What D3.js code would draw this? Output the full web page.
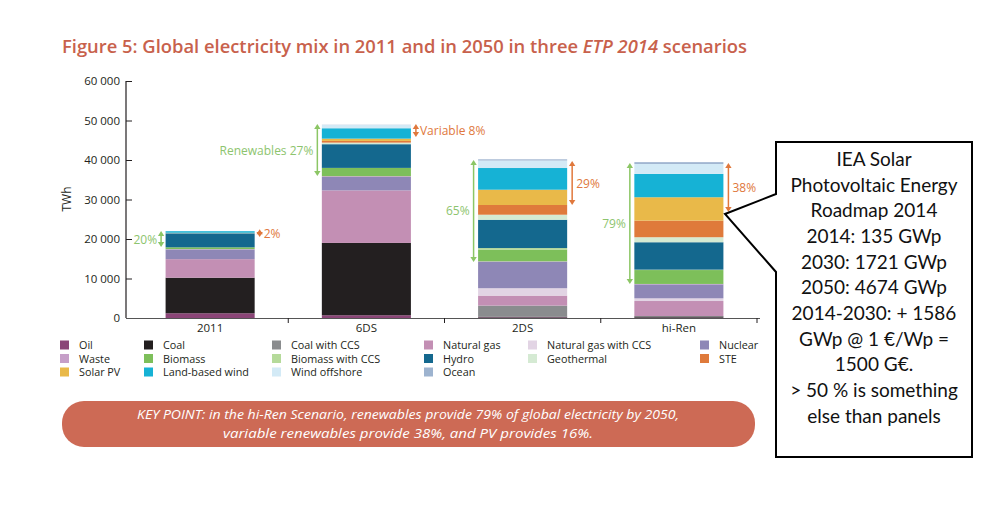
<!DOCTYPE html>
<html><head><meta charset="utf-8">
<script src="https://cdn.jsdelivr.net/npm/d3@7"></script>
<style>body{margin:0;background:#fff;} svg{display:block;}</style>
</head><body><svg id="c" width="984" height="507"></svg>
<script>
// ---------- DATA ----------
const categories = ["2011", "6DS", "2DS", "hi-Ren"];
const seriesNames = ["Oil","Coal","Coal with CCS","Natural gas","Natural gas with CCS","Nuclear",
  "Waste","Biomass","Biomass with CCS","Hydro","Geothermal","STE",
  "Solar PV","Land-based wind","Wind offshore","Ocean"];
const oil            = [1200,   700,  150,  100];
const coal           = [9000, 18300,  200,  300];
const coalCCS        = [   0,     0, 2790,  100];
const naturalGas     = [4700, 13300, 2530, 3800];
const naturalGasCCS  = [   0,     0, 1870,  680];
const nuclear        = [2450,  3400, 6700, 3540];
const waste          = [ 100,   200,  100,  100];
const biomass        = [ 450,  2100, 3000, 3520];
const biomassCCS     = [   0,     0,  370,  100];
const hydro          = [3550,  6000, 7170, 6940];
const geothermal     = [  70,   400, 1270, 1270];
const ste            = [   5,   430, 2460, 4200];
const solarPV        = [  60,   580, 3870, 5920];
const landWind       = [ 400,  2630, 5490, 5900];
const windOffshore   = [  20,   840, 1900, 2530];
const ocean          = [   1,    50,  300,  450];
const seriesValues = [oil, coal, coalCCS, naturalGas, naturalGasCCS, nuclear, waste, biomass,
  biomassCCS, hydro, geothermal, ste, solarPV, landWind, windOffshore, ocean];
const seriesColors = ["#8b4577","#231f20","#8a8c8e","#c38fb4","#e2d4e4","#8e87b6",
  "#c69fc8","#7dbf5a","#b5da9a","#14688e","#d5ead3","#df7a3b",
  "#e9b949","#16b2d5","#d3eaf6","#9db3cf"];
const yTicks = [0, 10000, 20000, 30000, 40000, 50000, 60000];
const renewablesLabels = ["20%", "Renewables 27%", "65%", "79%"];
const renewablesSpan = [[18000, 22000], [35950, 49100], [14180, 40000], [8600, 39240]];
const variableLabels = ["2%", "Variable 8%", "29%", "38%"];
const variableSpan = [[20500, 22500], [45800, 49100], [28600, 39750], [26840, 39240]];
const titleParts = ["Figure 5: Global electricity mix in 2011 and in 2050 in three ", "ETP 2014", " scenarios"];
const keyPointLines = ["KEY POINT: in the hi-Ren Scenario, renewables provide 79% of global electricity by 2050,",
  "variable renewables provide 38%, and PV provides 16%."];
const noteLines = ["IEA Solar", "Photovoltaic Energy", "Roadmap 2014", "2014: 135 GWp", "2030: 1721 GWp",
  "2050: 4674 GWp", "2014-2030: + 1586", "GWp @ 1 €/Wp =", "1500 G€.", "> 50 % is something", "else than panels"];

// ---------- CHART ----------
const svg = d3.select("#c");
const font = "'Open Sans', sans-serif";
const green = "#8cc665", orange = "#e0783c";

const x = d3.scaleBand().domain(categories).range([132, 757]).paddingInner(0.43).paddingOuter(0.215);
const y = d3.scaleLinear().domain([0, 60000]).range([318, 81]);

// title
const t = svg.append("text").attr("x", 62).attr("y", 53)
  .attr("font-family", font).attr("font-size", 17.5).attr("font-weight", 600)
  .attr("fill", "#c8614c").attr("textLength", 685).attr("lengthAdjust", "spacingAndGlyphs");
t.append("tspan").text(titleParts[0]);
t.append("tspan").attr("font-style", "italic").text(titleParts[1]);
t.append("tspan").text(titleParts[2]);

// stacks
const rows = categories.map((c, i) => {
  const r = {cat: c};
  seriesNames.forEach((s, j) => r[s] = seriesValues[j][i]);
  return r;
});
const stacked = d3.stack().keys(seriesNames)(rows);
svg.append("g").selectAll("g").data(stacked).join("g")
  .attr("fill", (d, i) => seriesColors[i])
  .selectAll("rect").data(d => d).join("rect")
  .attr("x", d => x(d.data.cat)).attr("width", x.bandwidth())
  .attr("y", d => y(d[1])).attr("height", d => Math.max(0, y(d[0]) - y(d[1])));

// y axis
const ya = svg.append("g").attr("transform", "translate(132,0)")
  .call(d3.axisLeft(y).tickValues(yTicks).tickSize(6).tickPadding(6)
    .tickFormat(v => d3.format(",")(v).replace(/,/g, " ")));
ya.select(".domain").attr("stroke", "#231f20").attr("stroke-width", 1.2).attr("d", "M-6,318V81");
ya.selectAll(".tick line").attr("stroke", "#231f20");
ya.selectAll(".tick text").attr("font-family", font).attr("font-size", 11.5).attr("fill", "#231f20");

// x axis
svg.append("line").attr("x1", 126).attr("x2", 760).attr("y1", 318.5).attr("y2", 318.5)
  .attr("stroke", "#555").attr("stroke-width", 1.2);
const step = x.step();
categories.forEach((c, i) => {
  const bx = x(c) + x.bandwidth() + x.paddingInner() * step / 2;
  svg.append("line").attr("x1", bx).attr("x2", bx).attr("y1", 318).attr("y2", 323)
    .attr("stroke", "#231f20").attr("stroke-width", 1);
  svg.append("text").attr("x", x(c) + x.bandwidth() / 2).attr("y", 332)
    .attr("text-anchor", "middle").attr("font-family", font).attr("font-size", 11.5)
    .attr("fill", "#231f20").text(c);
});

svg.append("text").attr("transform", "translate(71,199) rotate(-90)")
  .attr("text-anchor", "middle").attr("font-family", font).attr("font-size", 12)
  .attr("fill", "#231f20").text("TWh");

// arrows
function dblArrow(ax, v0, v1, col) {
  const yTop = y(v1), yBot = y(v0), h = 5, w = 3.2;
  svg.append("line").attr("x1", ax).attr("x2", ax).attr("y1", yTop + 2).attr("y2", yBot - 2)
    .attr("stroke", col).attr("stroke-width", 1.5);
  svg.append("path").attr("d", `M${ax},${yTop}L${ax - w},${yTop + h}L${ax + w},${yTop + h}Z`).attr("fill", col);
  svg.append("path").attr("d", `M${ax},${yBot}L${ax - w},${yBot - h}L${ax + w},${yBot - h}Z`).attr("fill", col);
}
categories.forEach((c, i) => {
  const gx = x(c) - 4.5, ox = x(c) + x.bandwidth() + 5;
  const rs = renewablesSpan[i], vs = variableSpan[i];
  dblArrow(gx, rs[0], rs[1], green);
  dblArrow(ox, vs[0], vs[1], orange);
  svg.append("text").attr("x", gx - 4).attr("y", (y(rs[0]) + y(rs[1])) / 2 + 4.5)
    .attr("text-anchor", "end").attr("font-family", font).attr("font-size", 12)
    .attr("fill", "#8dc46e").text(renewablesLabels[i]);
  svg.append("text").attr("x", ox + 4).attr("y", (y(vs[0]) + y(vs[1])) / 2 + 4.5)
    .attr("font-family", font).attr("font-size", 12)
    .attr("fill", orange).text(variableLabels[i]);
});

// legend
const colSw = [60, 144, 272, 424, 528, 700];
seriesNames.forEach((s, i) => {
  const col = i % 6, row = Math.floor(i / 6);
  const ly = 345 + row * 13.5;
  svg.append("rect").attr("x", colSw[col]).attr("y", ly - 4.5).attr("width", 9).attr("height", 9)
    .attr("fill", seriesColors[i]);
  svg.append("text").attr("x", colSw[col] + 19).attr("y", ly + 4)
    .attr("font-family", font).attr("font-size", 10.8).attr("fill", "#231f20").text(s);
});

// key point pill
svg.append("rect").attr("x", 62).attr("y", 401).attr("width", 693).attr("height", 46)
  .attr("rx", 22).attr("fill", "#cd6a55");
keyPointLines.forEach((l, i) => {
  svg.append("text").attr("x", 408).attr("y", 419 + i * 18.5).attr("text-anchor", "middle")
    .attr("font-family", font).attr("font-size", 13).attr("font-style", "italic")
    .attr("fill", "#fff").attr("textLength", i === 0 ? 542 : 370)
    .attr("lengthAdjust", "spacingAndGlyphs").text(l);
});

// callout
svg.append("path").attr("d", "M776,142H972V457H776V272L725,214L776,194Z")
  .attr("fill", "#fff").attr("stroke", "#000").attr("stroke-width", 2);
noteLines.forEach((l, i) => {
  svg.append("text").attr("x", 874).attr("y", 166 + i * 25.67).attr("text-anchor", "middle")
    .attr("font-family", "Lato, sans-serif").attr("font-size", 19).attr("fill", "#111").text(l);
});
</script></body></html>
